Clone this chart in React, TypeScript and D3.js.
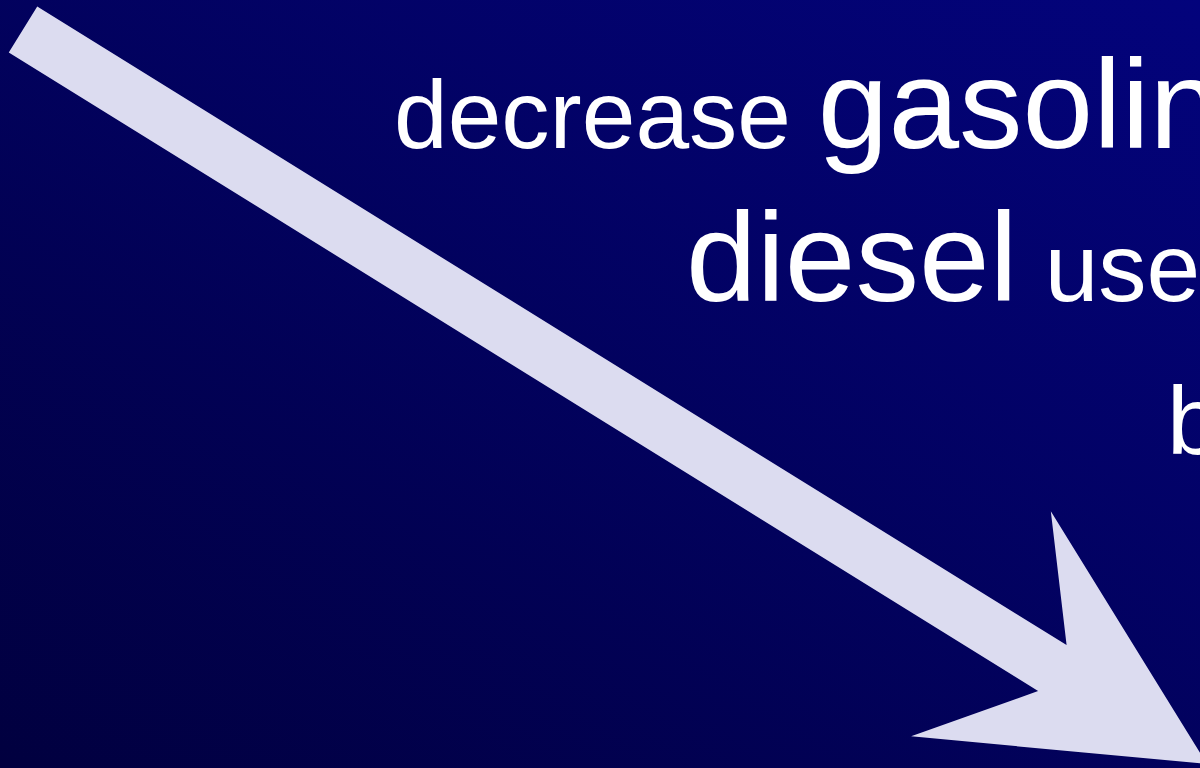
import React from "react";
import * as d3 from "d3";

const W = 1200;
const H = 768;

// Text lines: each made of runs [text, emphasis]
const line1 = [["decrease ", false], ["gasoline", true]] as [string, boolean][];
const line2 = [["diesel", true], [" use", false]] as [string, boolean][];
const line3 = [["by", false]] as [string, boolean][];
const lines = [line1, line2, line3];
const lineStarts = [394, 686, 1167];

// Arrow geometry (tail centre, tip)
const arrowTail = [23, 29.5];
const arrowTip = [1207, 764];
const shaftWidth = 54;
const headLength = 266;
const headHalfWidth = 132.5;
const notchDepth = 182;

function arrowPoints(): [number, number][] {
  const [x0, y0] = arrowTail;
  const [x1, y1] = arrowTip;
  const len = Math.hypot(x1 - x0, y1 - y0);
  const ux = (x1 - x0) / len;
  const uy = (y1 - y0) / len;
  const nx = -uy;
  const ny = ux;
  const pt = (along: number, perp: number): [number, number] => [
    x0 + ux * along + nx * perp,
    y0 + uy * along + ny * perp,
  ];
  const hw = shaftWidth / 2;
  return [
    pt(0, -hw),
    pt(len - notchDepth, -hw),
    pt(len - headLength, -headHalfWidth),
    pt(len, 0),
    pt(len - headLength, headHalfWidth),
    pt(len - notchDepth, hw),
    pt(0, hw),
  ];
}

export default function App() {
  const lineGen = d3.line<[number, number]>().curve(d3.curveLinearClosed);
  const y = d3.scaleLinear().domain([0, 2]).range([148, 454]);
  const d = lineGen(arrowPoints()) || "";
  return (
    <svg
      width={W}
      height={H}
      style={{ position: "fixed", left: 0, top: 0, display: "block" }}
    >
      <defs>
        <linearGradient id="bg" x1="0" y1="1" x2="1" y2="0">
          <stop offset="0%" stopColor="#01003f" />
          <stop offset="100%" stopColor="#03037c" />
        </linearGradient>
      </defs>
      <rect x={0} y={0} width={W} height={H} fill="url(#bg)" />
      <path d={d} fill="#dcdcf0" />
      {lines.map((runs, i) => (
        <text
          key={i}
          x={lineStarts[i]}
          y={y(i)}
          fill="#ffffff"
          fontFamily="'Liberation Sans', Arial, sans-serif"
        >
          {runs.map(([t, big], j) => (
            <tspan key={j} fontSize={big ? 127 : 96.5} style={{ whiteSpace: "pre" }}>
              {t}
            </tspan>
          ))}
        </text>
      ))}
    </svg>
  );
}
